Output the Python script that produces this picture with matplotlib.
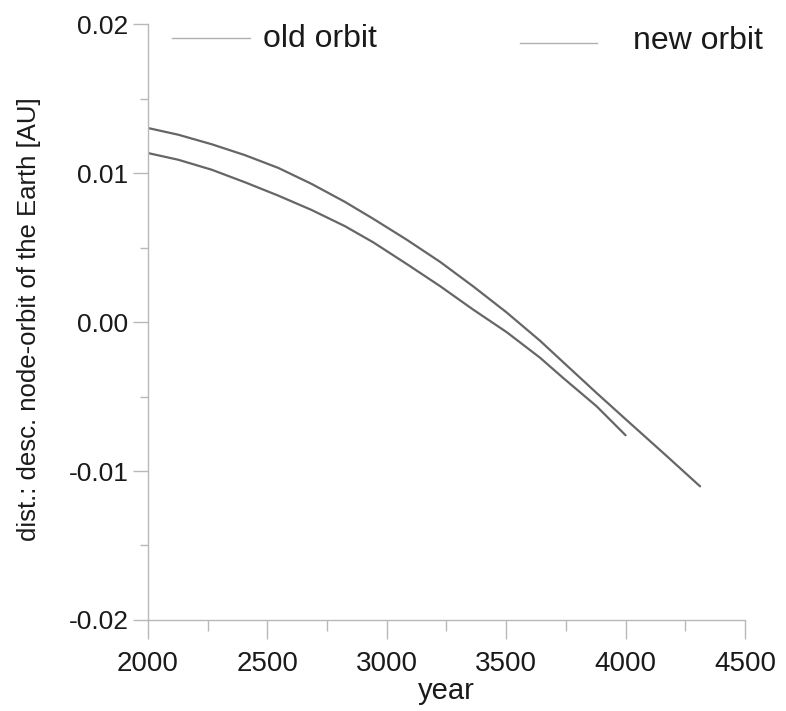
import numpy as np
import matplotlib
matplotlib.use("Agg")
import matplotlib.pyplot as plt
from matplotlib.lines import Line2D
from matplotlib.ticker import MultipleLocator, FormatStrFormatter

plt.rcParams['font.family'] = ['Liberation Sans', 'DejaVu Sans']
plt.rcParams['axes.unicode_minus'] = False

# distance between descending node and Earth's orbit [AU]
old_years = [2000, 2127, 2267, 2406, 2546, 2685, 2825, 2943, 3083, 3223,
             3362, 3502, 3642, 3739, 3879, 4000]
old_dist = [0.01134, 0.01089, 0.01022, 0.00938, 0.00848, 0.00752, 0.00643,
            0.00535, 0.00390, 0.00241, 0.00083, -0.00068, -0.00240, -0.00376,
            -0.00566, -0.00760]

new_years = [2000, 2127, 2267, 2406, 2546, 2685, 2825, 2943, 3083, 3223,
             3362, 3502, 3642, 3739, 3879, 4018, 4158, 4312]
new_dist = [0.01302, 0.01257, 0.01193, 0.01120, 0.01034, 0.00927, 0.00806,
            0.00693, 0.00553, 0.00404, 0.00239, 0.00064, -0.00126, -0.00270,
            -0.00477, -0.00678, -0.00879, -0.01103]

labels = ['old orbit', 'new orbit']

line_col = '#666666'
axis_col = '#b8b8b8'
text_col = '#1a1a1a'

fig = plt.figure(figsize=(7.86, 7.11), dpi=100)
ax = fig.add_axes([0.1883, 0.128, 0.7595, 0.8382])

ax.plot(old_years, old_dist, color=line_col, lw=1.6, solid_capstyle='round',
        solid_joinstyle='round')
ax.plot(new_years, new_dist, color=line_col, lw=1.6, solid_capstyle='round',
        solid_joinstyle='round')

ax.set_xlim(2000, 4500)
ax.set_ylim(-0.02, 0.02)

for s in ['top', 'right']:
    ax.spines[s].set_visible(False)
for s in ['left', 'bottom']:
    ax.spines[s].set_color(axis_col)
    ax.spines[s].set_linewidth(1.0)

ax.xaxis.set_major_locator(MultipleLocator(500))
ax.xaxis.set_minor_locator(MultipleLocator(250))
ax.yaxis.set_major_locator(MultipleLocator(0.01))
ax.yaxis.set_minor_locator(MultipleLocator(0.005))
ax.yaxis.set_major_formatter(FormatStrFormatter('%.2f'))

ax.tick_params(axis='x', which='major', length=14, width=1.0, color=axis_col,
               labelsize=20, pad=8, labelcolor=text_col)
ax.tick_params(axis='x', which='minor', length=8, width=1.0, color=axis_col)
ax.tick_params(axis='y', which='major', length=11, width=1.0, color=axis_col,
               labelsize=19, pad=3, labelcolor=text_col)
ax.tick_params(axis='y', which='minor', length=6, width=1.0, color=axis_col)

ax.set_xlabel('year', fontsize=21, color=text_col, labelpad=0)
ax.set_ylabel('dist.: desc. node-orbit of the Earth [AU]', fontsize=18.5,
              color=text_col, labelpad=0)
ax.yaxis.set_label_coords(-0.18, 0.505)

# legend drawn as short line samples with text beside them
leg_col = '#b0b0b0'
fig.add_artist(Line2D([172 / 786, 250 / 786], [1 - 37.7 / 711, 1 - 37.7 / 711],
                      color=leg_col, lw=1.0))
fig.text(263 / 786, 1 - 39 / 711, labels[0], fontsize=23, color=text_col,
         ha='left', va='center')
fig.add_artist(Line2D([520 / 786, 597 / 786], [1 - 43.3 / 711, 1 - 43.3 / 711],
                      color=leg_col, lw=1.0))
fig.text(633 / 786, 1 - 41 / 711, labels[1], fontsize=23, color=text_col,
         ha='left', va='center')

fig.savefig('out.png', dpi=100, facecolor='white')
